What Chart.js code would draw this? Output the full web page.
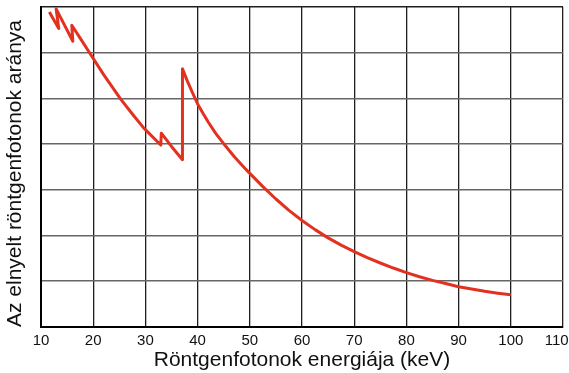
<!DOCTYPE html>
<html>
<head>
<meta charset="utf-8">
<script src="https://cdn.jsdelivr.net/npm/chart.js@4/dist/chart.umd.min.js"></script>
<style>
  html, body { margin: 0; padding: 0; background: #ffffff; }
  canvas { display: block; }
</style>
</head>
<body>
<canvas id="c" width="569" height="373"></canvas>
<script>
// Photon energy (keV) and absorbed fraction (relative units, grid steps)
const energy = [11.6, 13.4, 12.9, 16.1, 15.9, 17.5, 19.3, 22.0, 25.3, 27.5, 29.7, 32.95, 33.05, 35.0, 37.1, 37.1, 38.0, 39.0, 40.0, 41.0, 42.0, 43.5, 45.0, 47.0, 49.0, 50.0, 52.5, 55.0, 57.5, 60.0, 62.5, 65.0, 67.5, 70.0, 72.5, 75.0, 77.5, 80.0, 82.5, 85.0, 87.5, 90.0, 92.5, 95.0, 97.5, 100.0];
const ratio  = [6.89, 6.53, 6.96, 6.25, 6.60, 6.32, 6.00, 5.52, 4.98, 4.66, 4.35, 3.98, 4.24, 3.95, 3.66, 5.65, 5.39, 5.13, 4.88, 4.68, 4.49, 4.23, 4.01, 3.73, 3.48, 3.36, 3.07, 2.80, 2.55, 2.33, 2.13, 1.95, 1.79, 1.65, 1.52, 1.40, 1.29, 1.19, 1.10, 1.02, 0.95, 0.88, 0.83, 0.78, 0.74, 0.705];
const xTicks = [10, 20, 30, 40, 50, 60, 70, 80, 90, 100, 110];
const xTitle = "Röntgenfotonok energiája (keV)";
const yTitle = "Az elnyelt röntgenfotonok aránya";

const points = energy.map((e, i) => ({ x: e, y: ratio[i] }));

new Chart(document.getElementById('c'), {
  type: 'scatter',
  data: {
    datasets: [{
      data: points,
      showLine: true,
      borderColor: '#e2321f',
      borderWidth: 3,
      borderJoinStyle: 'round',
      pointRadius: 0,
      tension: 0,
      fill: false
    }]
  },
  options: {
    responsive: false,
    devicePixelRatio: 1,
    animation: false,
    layout: { padding: { left: 0, top: 7, right: 6, bottom: 0 } },
    plugins: { legend: { display: false }, tooltip: { enabled: false } },
    scales: {
      x: {
        type: 'linear',
        min: 10,
        max: 110,
        afterBuildTicks: (s) => { s.ticks = xTicks.map(v => ({ value: v })); },
        afterFit: (s) => { s.height = 46; s.paddingLeft = 0; s.paddingRight = 0; },
        ticks: {
          color: '#111',
          font: { family: 'Liberation Sans, Arial, sans-serif', size: 15 },
          padding: 5,
          maxRotation: 0,
          callback: (v) => (v === 110 ? String(v) + '   ' : String(v))
        },
        grid: { color: '#1e1e1e', lineWidth: 1.3, drawTicks: false },
        border: { display: true, color: '#000', width: 2 },
        title: {
          display: true,
          text: xTitle,
          color: '#111',
          font: { family: 'Liberation Sans, Arial, sans-serif', size: 21 },
          padding: { top: 0, bottom: 0 }
        }
      },
      y: {
        type: 'linear',
        min: 0,
        max: 7,
        ticks: { stepSize: 1, display: false },
        afterFit: (s) => { s.width = 41; },
        grid: {
          color: (ctx) => (ctx.tick && ctx.tick.value === 7) ? '#1e1e1e' : '#666',
          lineWidth: 1.6,
          drawTicks: false
        },
        border: { display: true, color: '#000', width: 2 },
        title: {
          display: true,
          text: yTitle,
          align: 'start',
          color: '#111',
          font: { family: 'Liberation Sans, Arial, sans-serif', size: 21 },
          padding: { top: 3, bottom: 0 }
        }
      }
    }
  }
});
</script>
</body>
</html>
